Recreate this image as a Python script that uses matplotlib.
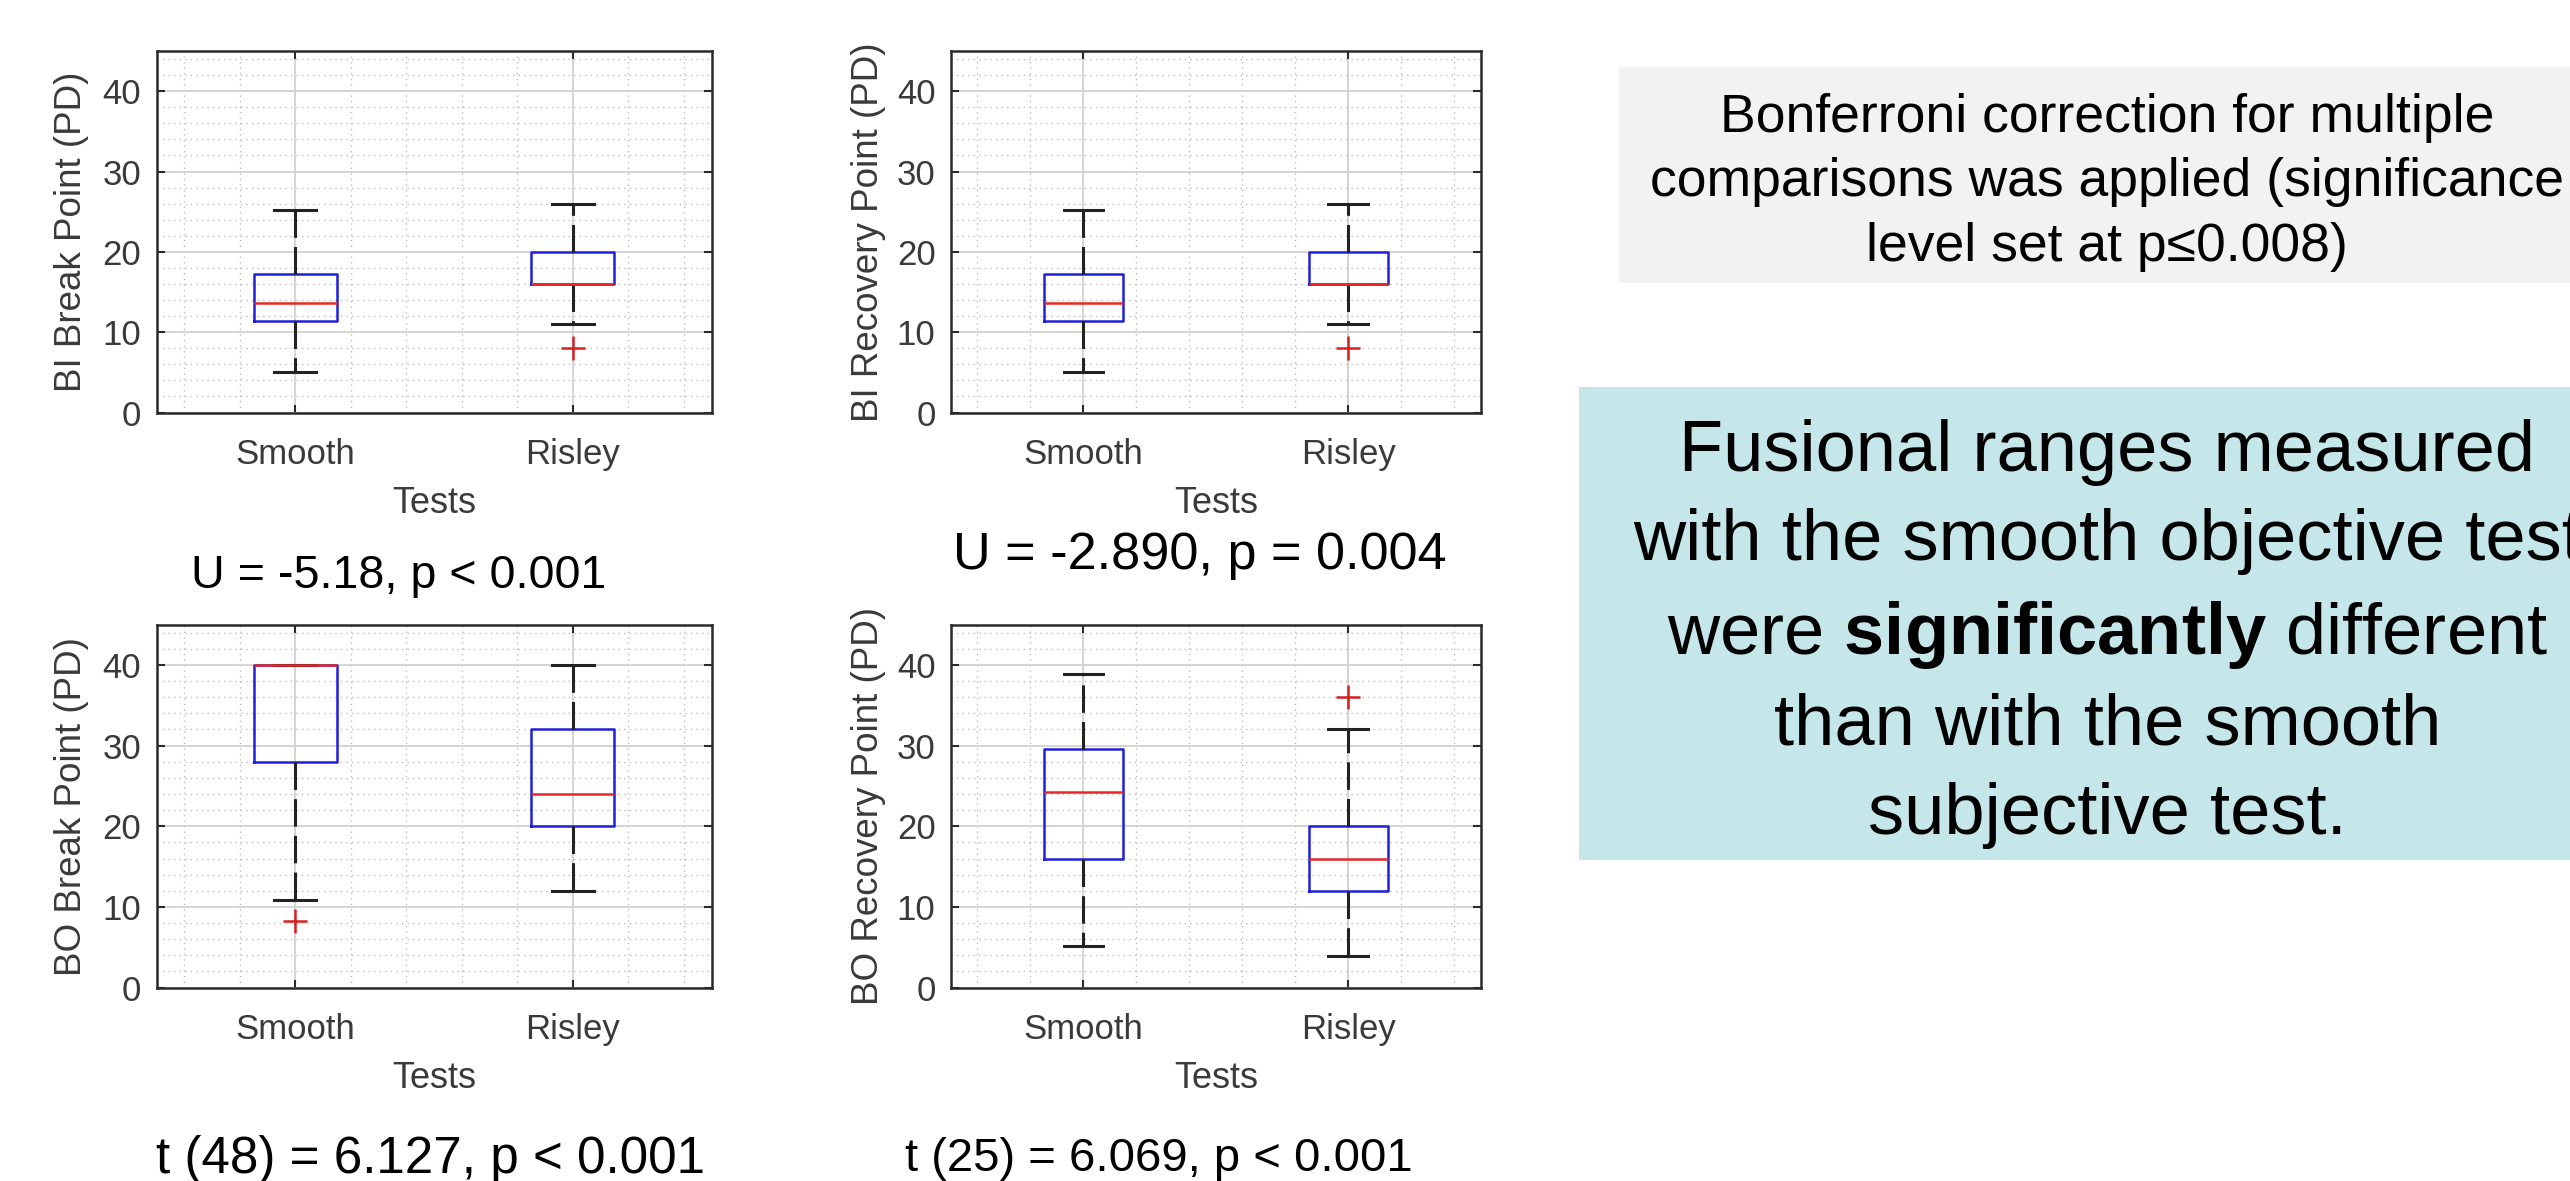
import matplotlib
matplotlib.use('Agg')
import matplotlib.pyplot as plt
from matplotlib.patches import Rectangle
from matplotlib.ticker import MultipleLocator

plt.rcParams['font.family'] = ['Liberation Sans', 'DejaVu Sans']
plt.rcParams['mathtext.fontset'] = 'custom'
plt.rcParams['mathtext.rm'] = 'Liberation Sans'
plt.rcParams['mathtext.bf'] = 'Liberation Sans:bold'

# --- data ---
tests = ['Smooth', 'Risley']
ylabels = ['BI Break Point (PD)', 'BI Recovery Point (PD)',
           'BO Break Point (PD)', 'BO Recovery Point (PD)']

# five number summaries per test: whisker low, Q1, median, Q3, whisker high
bi_break = [[5.0, 11.4, 13.6, 17.2, 25.2], [11.0, 16.0, 16.0, 20.0, 26.0]]
bi_break_out = [[], [8.0]]
bi_recovery = [[5.0, 11.4, 13.6, 17.2, 25.2], [11.0, 16.0, 16.0, 20.0, 26.0]]
bi_recovery_out = [[], [8.0]]
bo_break = [[10.8, 28.0, 40.0, 40.0, 40.0], [12.0, 20.0, 24.0, 32.0, 40.0]]
bo_break_out = [[8.2], []]
bo_recovery = [[5.2, 15.9, 24.2, 29.6, 38.9], [3.9, 12.0, 16.0, 20.0, 32.0]]
bo_recovery_out = [[], [36.0]]

stat_texts = ['U = -5.18, p < 0.001', 'U = -2.890, p = 0.004',
              't (48) = 6.127, p < 0.001', 't (25) = 6.069, p < 0.001']

note_text = ('Bonferroni correction for multiple\n'
             'comparisons was applied (significance\n'
             'level set at p\u22640.008)')
conclusion_text = ('Fusional ranges measured\n'
                   'with the smooth objective test\n'
                   'were $\\bf{significantly}$ different\n'
                   'than with the smooth\n'
                   'subjective test.')

fig = plt.figure(figsize=(25.7, 11.81), dpi=100)

# axes rectangles in figure fractions
axes_pos = [[0.0609, 0.6507, 0.2160, 0.3061],
            [0.3700, 0.6507, 0.2062, 0.3061],
            [0.0609, 0.1638, 0.2160, 0.3073],
            [0.3700, 0.1638, 0.2062, 0.3073]]

panel_data = [(bi_break, bi_break_out), (bi_recovery, bi_recovery_out),
              (bo_break, bo_break_out), (bo_recovery, bo_recovery_out)]

tick_col = '#3a3a3a'
for pos, (summ, outs), ylab in zip(axes_pos, panel_data, ylabels):
    ax = fig.add_axes(pos)
    stats = []
    for s, f, name in zip(summ, outs, tests):
        stats.append(dict(whislo=s[0], q1=s[1], med=s[2], q3=s[3],
                          whishi=s[4], fliers=f, label=name))
    ax.bxp(stats, positions=[1, 2], widths=0.3, capwidths=0.15,
           boxprops=dict(color='#2020d8', linewidth=1.8),
           medianprops=dict(color='#e62828', linewidth=1.8),
           whiskerprops=dict(color='#222222', linewidth=2.2,
                             linestyle=(0, (9, 3))),
           capprops=dict(color='#222222', linewidth=2.2),
           flierprops=dict(marker='+', markeredgecolor='#d82020',
                           markersize=17, markeredgewidth=1.8))
    ax.set_xlim(0.5, 2.5)
    ax.set_ylim(0, 45)
    ax.set_yticks([0, 10, 20, 30, 40])
    ax.set_xticks([1, 2])
    ax.set_xticklabels(tests)
    ax.xaxis.set_minor_locator(MultipleLocator(0.2))
    ax.yaxis.set_minor_locator(MultipleLocator(2))
    ax.set_axisbelow(True)
    ax.grid(which='major', color='#d4d4d4', linewidth=1.4, linestyle='-')
    ax.grid(which='minor', color='#bdbdbd', linewidth=1.0,
            linestyle=(0, (1, 3)))
    ax.tick_params(which='major', direction='in', length=6, width=1.5,
                   top=True, right=True, labelsize=25, labelcolor=tick_col,
                   color='#2a2a2a')
    ax.tick_params(which='minor', length=0)
    ax.tick_params(axis='x', pad=18)
    ax.tick_params(axis='y', pad=11)
    for sp in ax.spines.values():
        sp.set_linewidth(1.8)
        sp.set_color('#2a2a2a')
    ax.set_ylabel(ylab, fontsize=26.5, color=tick_col)
    ax.yaxis.set_label_coords(-0.122, 0.5)
    ax.set_xlabel('Tests', fontsize=26, color=tick_col)
    ax.xaxis.set_label_coords(0.5, -0.202)

# test statistics under each panel
fig.text(0.1553, 0.5018, stat_texts[0], fontsize=33.6, ha='center', va='baseline')
fig.text(0.4669, 0.5179, stat_texts[1], fontsize=37.6, ha='center', va='baseline')
fig.text(0.1677, 0.0064, stat_texts[2], fontsize=36.8, ha='center', va='baseline')
fig.text(0.4510, 0.0085, stat_texts[3], fontsize=34, ha='center', va='baseline')

# note boxes on the right
fig.add_artist(Rectangle((0.630, 0.7604), 0.40, 0.1829, transform=fig.transFigure,
                         facecolor='#f2f2f2', edgecolor='none', zorder=0))
fig.text(0.820, 0.9213, note_text, fontsize=38.5, ha='center', va='top',
         multialignment='center', linespacing=1.37)

fig.add_artist(Rectangle((0.6144, 0.2718), 0.40, 0.4005, transform=fig.transFigure,
                         facecolor='#c5e7ea', edgecolor='none', zorder=0))
fig.text(0.820, 0.6456, conclusion_text, fontsize=52, ha='center', va='top',
         multialignment='center', linespacing=1.43)

fig.savefig('out.png', dpi=100)
